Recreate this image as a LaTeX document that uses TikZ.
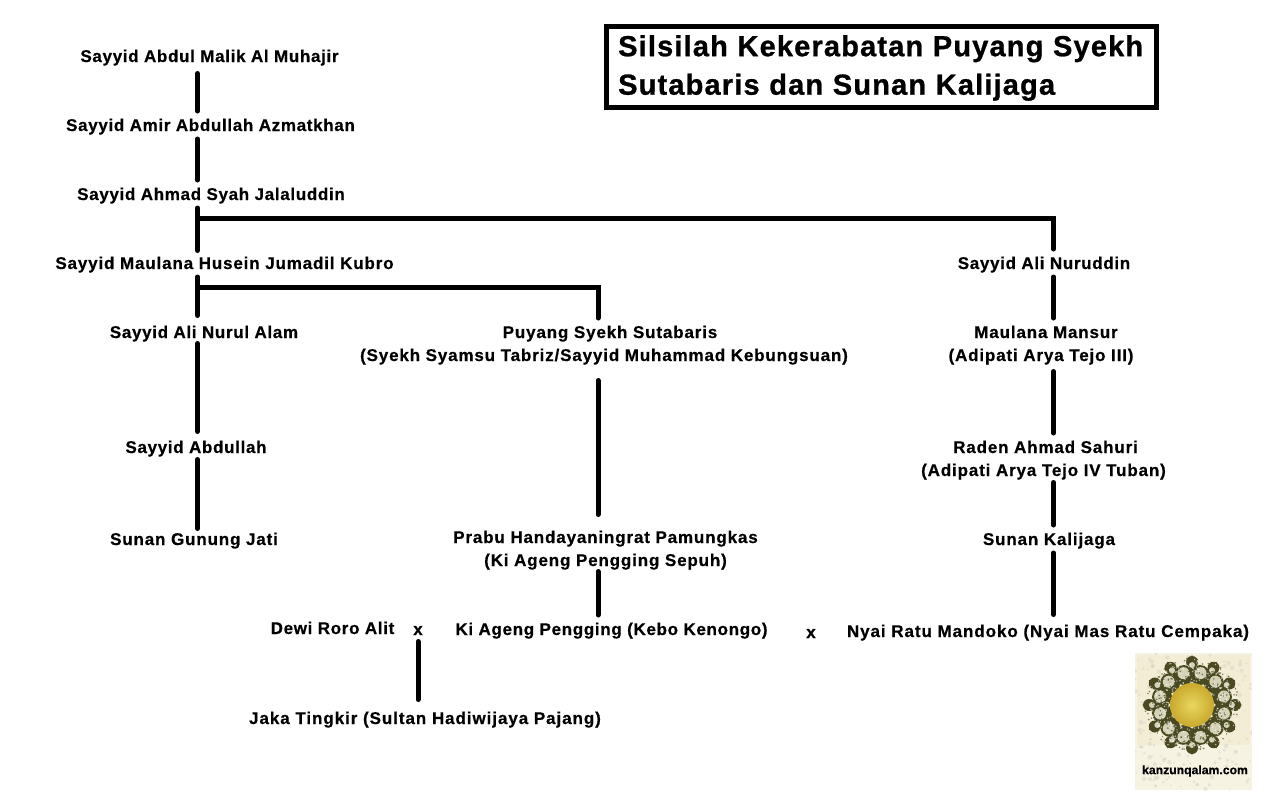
\documentclass[tikz,border=0pt]{standalone}
\usepackage{fontspec}
\usetikzlibrary{calc}
\setmainfont{Liberation Sans}[BoldFont={Liberation Sans Bold}]
\newfontfamily\lblfont{Liberation Sans Bold}[LetterSpace=5,FakeBold=0.55]
\newfontfamily\lbltightfont{Liberation Sans Bold}[LetterSpace=4,FakeBold=0.55]
\newfontfamily\lblwidefont{Liberation Sans Bold}[LetterSpace=5.5,FakeBold=0.55]
\newfontfamily\ttlfont{Liberation Sans Bold}[LetterSpace=4,FakeBold=0.9]
\newfontfamily\wmfont{Liberation Sans Bold}[FakeBold=0.4]
\definecolor{emblemcream}{HTML}{F4EDD6}
\definecolor{emblemdark}{HTML}{4A4A22}
\definecolor{emblemlight}{HTML}{D5D2B8}
\definecolor{emblemgold}{HTML}{C9A92E}
\definecolor{emblemsun}{HTML}{E9D75F}
\tikzset{
  lbl/.style={inner sep=0pt,outer sep=0pt,font=\lblfont\fontsize{17}{23}\selectfont,text height=13.5pt,text depth=1.5pt,align=center,minimum height=28pt},
  lbltight/.style={lbl,font=\lbltightfont\fontsize{17}{23}\selectfont},
  lblwide/.style={lbl,font=\lblwidefont\fontsize{17}{23}\selectfont},
  lbltwo/.style={lbl,text height=36.5pt,minimum height=51pt},
  conn/.style={line width=5pt,line cap=round,line join=miter,black},
  ttl/.style={inner sep=0pt,font=\ttlfont\fontsize{29}{38.5}\selectfont,align=left,anchor=west},
}
\begin{document}
\begin{tikzpicture}[x=1pt,y=-1pt]
\useasboundingbox (0,0) rectangle (1276,798);
\fill[white] (0,0) rectangle (1276,798);
% rails
\coordinate (railA) at (197.5,0);
\coordinate (railB) at (598,0);
\coordinate (railC) at (1053.5,0);
\coordinate (railD) at (418,0);
% title
\node[draw=black,line width=5pt,minimum width=550pt,minimum height=81pt,inner sep=0pt] (titlebox) at (881,67) {};
\node[ttl,text width=540pt] (title) at (618,68) {Silsilah Kekerabatan Puyang Syekh\\Sutabaris dan Sunan Kalijaga};
% people
\node[lbltight] (malik) at (209.5,56) {Sayyid Abdul Malik Al Muhajir};
\node[lbltight] (amir) at (210.5,125) {Sayyid Amir Abdullah Azmatkhan};
\node[lbltight] (ahmad) at (211,194) {Sayyid Ahmad Syah Jalaluddin};
\node[lbl] (husein) at (224.5,263) {Sayyid Maulana Husein Jumadil Kubro};
\node[lbltight] (nurul) at (204,332) {Sayyid Ali Nurul Alam};
\node[lbltight] (abdullah) at (196,447) {Sayyid Abdullah};
\node[lbl] (gunung) at (194,539) {Sunan Gunung Jati};
\node[lbltwo] (sutabaris) at (604,343.5) {\hspace*{12pt}Puyang Syekh Sutabaris\\(Syekh Syamsu Tabriz/Sayyid Muhammad Kebungsuan)};
\node[lbltwo] (handaya) at (605.5,548.5) {Prabu Handayaningrat Pamungkas\\(Ki Ageng Pengging Sepuh)};
\node[lbltight] (pengging) at (611.5,629) {Ki Ageng Pengging (Kebo Kenongo)};
\node[lbltight] (roro) at (332.5,628) {Dewi Roro Alit};
\node[lbl] (x1) at (418,629) {x};
\node[lbl] (x2) at (811,632) {x};
\node[lblwide] (mandoko) at (1048,631) {Nyai Ratu Mandoko (Nyai Mas Ratu Cempaka)};
\node[lblwide] (tingkir) at (425,718) {Jaka Tingkir (Sultan Hadiwijaya Pajang)};
\node[lbltight] (nuruddin) at (1044,263) {Sayyid Ali Nuruddin};
\node[lbltwo] (mansur) at (1041,343.5) {\hspace*{10pt}Maulana Mansur\\(Adipati Arya Tejo III)};
\node[lbltwo] (sahuri) at (1043.5,458.5) {\hspace*{4pt}Raden Ahmad Sahuri\\(Adipati Arya Tejo IV Tuban)};
\node[lbl] (kalijaga) at (1049,539) {Sunan Kalijaga};
% connectors
\draw[conn,shorten <=3.5pt] (malik.south -| railA) -- (amir.north -| railA);
\draw[conn] (amir.south -| railA) -- (ahmad.north -| railA);
\draw[conn,shorten >=-1.5pt] (ahmad.south -| railA) -- (husein.north -| railA);
\draw[conn,shorten >=2.5pt] (husein.south -| railA) -- (nurul.north -| railA);
\draw[conn,shorten <=-2.5pt,shorten >=1.5pt] (nurul.south -| railA) -- (abdullah.north -| railA);
\draw[conn,shorten <=-1.5pt,shorten >=-3.5pt] (abdullah.south -| railA) -- (gunung.north -| railA);
\coordinate (branchA) at (0,218);
\coordinate (branchB) at (0,287.5);
\draw[conn] (railA |- branchA) -- (railC |- branchA) -- (nuruddin.north -| railC);
\draw[conn] (railA |- branchB) -- (railB |- branchB) -- (sutabaris.north -| railB);
\draw[conn] (nuruddin.south -| railC) -- (mansur.north -| railC);
\draw[conn,shorten <=2.5pt] (mansur.south -| railC) -- (sahuri.north -| railC);
\draw[conn,shorten <=-1.5pt] (sahuri.south -| railC) -- (kalijaga.north -| railC);
\draw[conn,shorten >=2.5pt] (kalijaga.south -| railC) -- (mandoko.north -| railC);
\draw[conn,shorten <=11.5pt,shorten >=8.5pt] (sutabaris.south -| railB) -- (handaya.north -| railB);
\draw[conn,shorten <=-2.5pt] (handaya.south -| railB) -- (pengging.north -| railB);
\draw[conn,shorten <=-1.5pt,shorten >=4.5pt] (x1.south -| railD) -- (tingkir.north -| railD);
% emblem
\begin{scope}
\clip (1135,653) rectangle (1252,790);
\fill[emblemcream!70!white] (1135,653) rectangle (1252,790);
\fill[emblemcream] (1137,655) rectangle (1250,745);
\pgfmathsetseed{7}
\foreach \i in {1,...,200}{
  \pgfmathsetmacro{\px}{1135+117*rnd}
  \pgfmathsetmacro{\py}{653+137*rnd}
  \pgfmathsetmacro{\pr}{0.8+1.6*rnd}
  \fill[gray!35!emblemcream,opacity=.35] (\px,\py) circle[radius=\pr];
}
\foreach \a in {0,30,...,330}{
  \fill[emblemdark] ($(1192,705)+(\a:43)$) circle[radius=6];
  \fill[emblemdark] ($(1192,705)+(\a-9:35)$) -- ($(1192,705)+(\a:50)$) -- ($(1192,705)+(\a+9:35)$) -- cycle;
  \fill[emblemdark] ($(1192,705)+(\a+15:31)$) circle[radius=10];
}
\foreach \a in {0,30,...,330}{
  \fill[emblemlight] ($(1192,705)+(\a+15:33)$) circle[radius=6];
  \fill[emblemlight] ($(1192,705)+(\a:40)$) ellipse[x radius=3,y radius=3];
  \fill[emblemdark] ($(1192,705)+(\a+15:26)$) circle[radius=1.6];
}
\pgfmathsetseed{11}
\foreach \i in {1,...,600}{
  \pgfmathsetmacro{\pa}{360*rnd}
  \pgfmathsetmacro{\pq}{23+24*rnd}
  \pgfmathsetmacro{\pc}{rnd>0.45 ? 1 : 0}
  \ifdim\pc pt>0.5pt
    \fill[white,opacity=.6] ($(1192,705)+(\pa:\pq)$) circle[radius=.8];
  \else
    \fill[emblemdark,opacity=.65] ($(1192,705)+(\pa:\pq)$) circle[radius=.9];
  \fi
}
\shade[inner color=emblemsun,outer color=emblemgold] (1192,705) circle[radius=22];
\end{scope}
\node[inner sep=0pt,font=\wmfont\fontsize{12.2}{16}\selectfont] (wm) at (1195,771) {kanzunqalam.com};
\end{tikzpicture}
\end{document}
